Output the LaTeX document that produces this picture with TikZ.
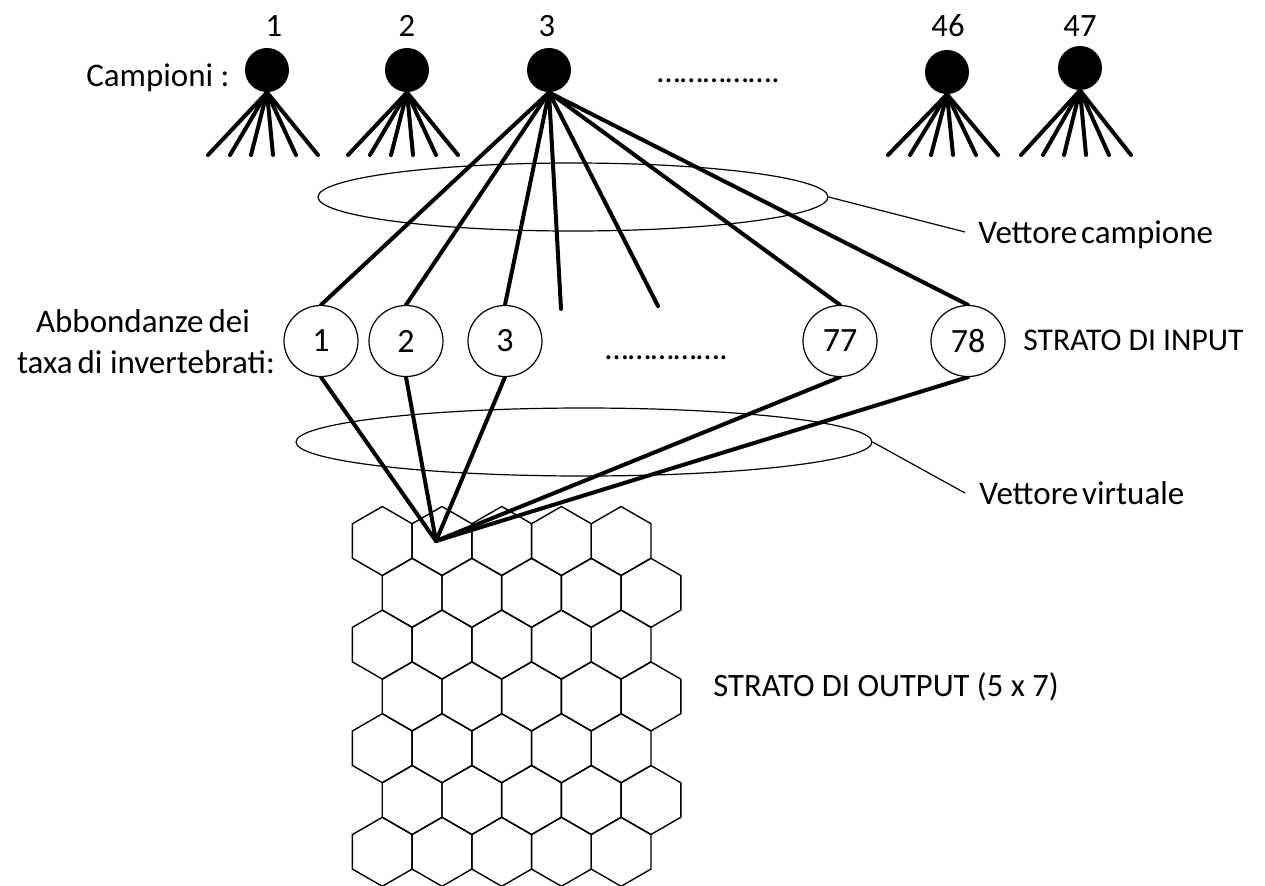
\documentclass[tikz,border=0pt]{standalone}
\usepackage{fontspec}
\setmainfont{Carlito}
\usetikzlibrary{shapes.geometric}
\pgfdeclarelayer{background}
\pgfsetlayers{background,main}
\begin{document}
\begin{tikzpicture}[x=0.5pt,y=-0.5pt,
  thickline/.style={line width=2pt,line cap=round},
  thinline/.style={line width=0.6pt},
  hexline/.style={line width=0.7pt,line join=miter},
  sample/.style={circle,fill=black,minimum size=22pt,inner sep=0pt},
  inpnode/.style={ellipse,draw,fill=white,line width=0.6pt,minimum width=37pt,minimum height=35.5pt,inner sep=0pt,font=\fontsize{17}{20}\selectfont},
  vect/.style={ellipse,draw,line width=0.6pt,inner sep=0pt},
  lbl/.style={font=\fontsize{16.5}{19}\selectfont,inner sep=0pt},
  lblnum/.style={font=\fontsize{16.3}{19}\selectfont,inner sep=0pt},
  lblin/.style={font=\fontsize{15.8}{18}\selectfont,inner sep=0pt},
  lblout/.style={font=\fontsize{16.3}{19}\selectfont,inner sep=0pt}]
\useasboundingbox (0,0) rectangle (1265,885);

% sample nodes
\node[sample] (s1) at (267,70) {};
\node[sample] (s2) at (407,70) {};
\node[sample] (s3) at (549,70) {};
\node[sample] (s46) at (947,72) {};
\node[sample] (s47) at (1080,68) {};
\node[lblnum,anchor=base] (n1) at (274,36) {1};
\node[lblnum,anchor=base] (n2) at (407,36) {2};
\node[lblnum,anchor=base] (n3) at (547,36) {3};
\node[lblnum,anchor=base] (n46) at (948,36) {46};
\node[lblnum,anchor=base] (n47) at (1080,36) {47};
\node[lbl,anchor=base east] (camp) at (230,86) {Campioni :};
\node[lbl,anchor=base west] (dots1) at (657,82) {…………….};

% fans of the samples
\begin{pgfonlayer}{background}
\foreach \s/\cx in {s1/267,s2/407,s46/947,s47/1080}{
  \foreach \dx [count=\k] in {-59,-37,-16,6,29,51}{
    \coordinate (\s-f\k) at (\cx+\dx,155);
    \draw[thickline] (\s.south) -- (\s-f\k);
  }
}
\end{pgfonlayer}

% input layer
\node[inpnode] (i1) at (321,341) {1};
\node[inpnode] (i2) at (406,341) {2};
\node[inpnode] (i3) at (505,341) {3};
\node[inpnode] (i77) at (840,341) {77};
\node[inpnode] (i78) at (968,341) {78};
\node[lbl,anchor=base west] (dots2) at (605,359) {…………….};
\node[lbl,anchor=base] (ab1) at (143,332) {Abbondanze\hspace{0.15em}dei};
\node[lbl,anchor=base] (ab2) at (146,373) {taxa\hspace{0.15em}di invertebrati:};
\node[lblin,anchor=base west] (sin) at (1023,350) {STRATO DI INPUT};

\coordinate (f4) at (561,309);
\coordinate (f5) at (658,306);
\coordinate (conv) at (436,541);
\begin{pgfonlayer}{background}
\foreach \t in {i1,i2,i3,f4,f5,i77,i78}{
  \draw[thickline] (s3.south) -- (\t.north);
}
\foreach \t in {i1,i2,i3,i77,i78}{
  \draw[thickline] (\t.south) -- (conv);
}
\end{pgfonlayer}

% vector ellipses
\node[vect,minimum width=255pt,minimum height=34pt] (e1) at (573,197) {};
\coordinate (c1) at (965,232);
\draw[thinline] (e1.east) -- (c1);
\node[lbl,anchor=base west] (vc) at (978,243) {Vettore\hspace{0.12em}campione};

\node[vect,minimum width=288pt,minimum height=34pt] (e2) at (584,442) {};
\coordinate (c2) at (965,493);
\draw[thinline] (e2.east) -- (c2);
\node[lbl,anchor=base west] (vv) at (979,504) {Vettore\hspace{0.12em}virtuale};

% output layer (hexagonal grid 5 x 7)
\begin{pgfonlayer}{background}
\foreach \r in {0,...,6}{
  \foreach \c in {0,...,4}{
    \pgfmathsetmacro{\hx}{382.3+59.7*\c+29.85*mod(\r,2)}
    \pgfmathsetmacro{\hy}{541+51.8*\r}
    \draw[hexline] (\hx,\hy) +(30:34.5) -- +(90:34.5) -- +(150:34.5) -- +(210:34.5) -- +(270:34.5) -- +(330:34.5) -- cycle;
  }
}
\end{pgfonlayer}
\node[lblout,anchor=base west] (sout) at (713,696) {STRATO DI OUTPUT (5 x 7)};
\end{tikzpicture}
\end{document}
